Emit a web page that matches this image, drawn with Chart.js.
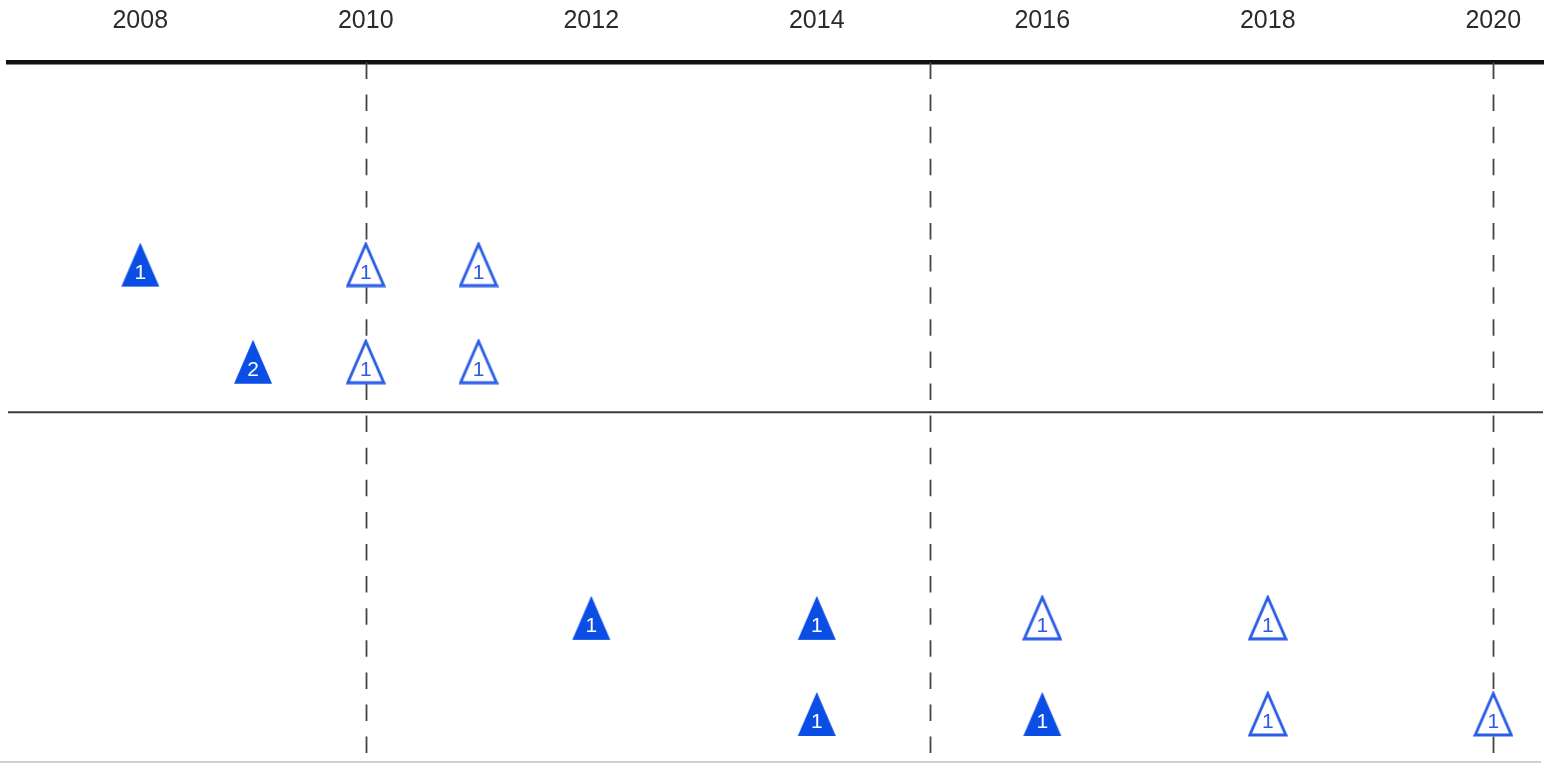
<!DOCTYPE html>
<html>
<head>
<meta charset="utf-8">
<script src="https://cdn.jsdelivr.net/npm/chart.js@4/dist/chart.umd.min.js"></script>
<style>
  html, body { margin: 0; padding: 0; background: #fff; }
  #wrap { width: 1551px; height: 765px; position: relative; }
  canvas { display: block; }
</style>
</head>
<body>
<div id="wrap"><canvas id="c" width="1551" height="765"></canvas></div>
<script>
// ---- data ----
const tickYears = [2008, 2010, 2012, 2014, 2016, 2018, 2020];
const refLineYears = [2010, 2015, 2020];

// top panel (row 2 = upper row, row 1 = lower row)
const topFilledYears  = [2008, 2009];
const topFilledRows   = [2, 1];
const topFilledCounts = [1, 2];
const topOpenYears    = [2010, 2011, 2010, 2011];
const topOpenRows     = [2, 2, 1, 1];
const topOpenCounts   = [1, 1, 1, 1];

// bottom panel
const bottomFilledYears  = [2012, 2014, 2014, 2016];
const bottomFilledRows   = [2, 2, 1, 1];
const bottomFilledCounts = [1, 1, 1, 1];
const bottomOpenYears    = [2016, 2018, 2018, 2020];
const bottomOpenRows     = [2, 2, 1, 1];
const bottomOpenCounts   = [1, 1, 1, 1];

// ---- styles ----
const FILL_BLUE = '#0b4ee6';
const LINE_BLUE = '#2a5ce6';
const FONT = "'Liberation Sans', Arial, Helvetica, sans-serif";

function makeTriangle(filled) {
  const w = 40, h = 46;
  const c = document.createElement('canvas');
  c.width = w; c.height = h;
  const g = c.getContext('2d');
  g.beginPath();
  if (filled) {
    g.moveTo(w / 2, 1); g.lineTo(w - 1, h - 1); g.lineTo(1, h - 1);
  } else {
    g.moveTo(w / 2, 2.5); g.lineTo(w - 2, h - 2); g.lineTo(2, h - 2);
  }
  g.closePath();
  if (filled) {
    g.fillStyle = FILL_BLUE; g.fill();
  } else {
    g.fillStyle = '#fff'; g.fill();
    g.lineWidth = 2.8; g.lineJoin = 'miter'; g.strokeStyle = LINE_BLUE; g.stroke();
  }
  return c;
}
const triFilled = makeTriangle(true);
const triOpen = makeTriangle(false);

function toPoints(years, rows, counts) {
  return years.map((x, i) => ({ x: x, y: rows[i], n: counts[i] }));
}

function ds(label, years, rows, counts, filled, axis) {
  return {
    label: label,
    data: toPoints(years, rows, counts),
    yAxisID: axis,
    filledMark: filled,
    pointStyle: filled ? triFilled : triOpen,
    pointRadius: 22,
    pointHoverRadius: 22,
    showLine: false,
    clip: false
  };
}

const framePlugin = {
  id: 'frame',
  beforeDatasetsDraw(chart) {
    const { ctx, chartArea: a, scales } = chart;
    ctx.save();
    // dashed reference lines
    ctx.strokeStyle = '#444';
    ctx.lineWidth = 1.8;
    ctx.setLineDash([16.5, 15.6]);
    refLineYears.forEach(yr => {
      const px = Math.round(scales.x.getPixelForValue(yr)) + 0.5;
      ctx.beginPath();
      ctx.moveTo(px, a.top);
      ctx.lineTo(px, a.bottom - 2);
      ctx.stroke();
    });
    ctx.setLineDash([]);
    // divider between panels
    const yDiv = scales.yTop.bottom;
    ctx.strokeStyle = '#3a3a3a';
    ctx.lineWidth = 2;
    ctx.beginPath();
    ctx.moveTo(a.left, yDiv);
    ctx.lineTo(a.right, yDiv);
    ctx.stroke();
    // faint bottom line
    ctx.strokeStyle = '#cfcfcf';
    ctx.lineWidth = 2;
    ctx.beginPath();
    ctx.moveTo(0, a.bottom);
    ctx.lineTo(a.right - 2, a.bottom);
    ctx.stroke();
    ctx.restore();
  }
};

const countPlugin = {
  id: 'counts',
  afterDatasetsDraw(chart) {
    const ctx = chart.ctx;
    ctx.save();
    ctx.font = '21px ' + FONT;
    ctx.textAlign = 'center';
    ctx.textBaseline = 'middle';
    chart.data.datasets.forEach((d, di) => {
      const meta = chart.getDatasetMeta(di);
      ctx.fillStyle = d.filledMark ? '#ffffff' : LINE_BLUE;
      meta.data.forEach((el, i) => {
        ctx.fillText(String(d.data[i].n), el.x, el.y + 8.5);
      });
    });
    ctx.restore();
  }
};

const hiddenY = (min, max) => ({
  type: 'linear',
  position: 'left',
  stack: 'panels',
  stackWeight: 1,
  min: min,
  max: max,
  afterFit: s => { s.width = 0; },
  ticks: { display: false },
  grid: { display: false, drawTicks: false },
  border: { display: false }
});

new Chart(document.getElementById('c'), {
  type: 'scatter',
  data: {
    datasets: [
      ds('top filled', topFilledYears, topFilledRows, topFilledCounts, true, 'yTop'),
      ds('top open', topOpenYears, topOpenRows, topOpenCounts, false, 'yTop'),
      ds('bottom filled', bottomFilledYears, bottomFilledRows, bottomFilledCounts, true, 'yBottom'),
      ds('bottom open', bottomOpenYears, bottomOpenRows, bottomOpenCounts, false, 'yBottom')
    ]
  },
  options: {
    responsive: false,
    animation: false,
    events: [],
    layout: { autoPadding: false, padding: { top: 8, left: 8, right: 8, bottom: 3 } },
    plugins: { legend: { display: false }, tooltip: { enabled: false } },
    scales: {
      x: {
        type: 'linear',
        position: 'top',
        min: 2006.827,
        max: 2020.441,
        afterBuildTicks: s => { s.ticks = tickYears.map(v => ({ value: v })); },
        afterFit: s => { s.height = 54.5; },
        grid: { display: false, drawTicks: false },
        border: { display: true, color: '#111', width: 4.5 },
        ticks: {
          autoSkip: false,
          maxRotation: 0,
          padding: 26,
          color: '#2b2b2b',
          font: { family: FONT, size: 25 },
          callback: v => String(v)
        }
      },
      yBottom: hiddenY(0.5, 4.14),
      yTop: hiddenY(0.48, 4.08)
    }
  },
  plugins: [framePlugin, countPlugin]
});
</script>
</body>
</html>
